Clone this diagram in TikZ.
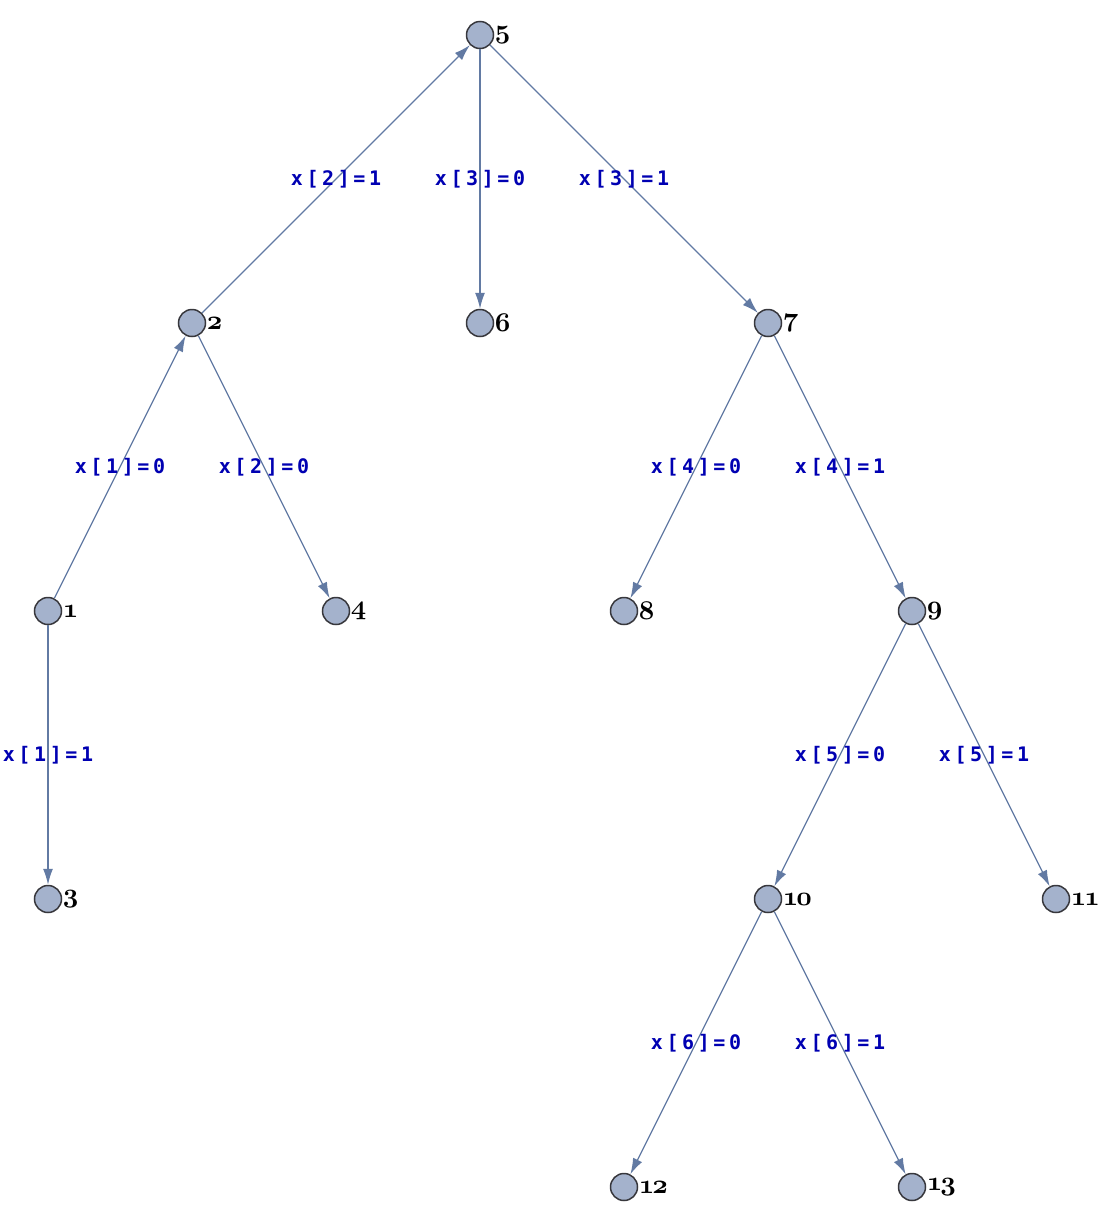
\documentclass[tikz,border=0pt]{standalone}
\usepackage{fontspec}
\usetikzlibrary{arrows.meta}
\newfontfamily\lblfont{DejaVu Sans Mono}[LetterSpace=18]
\font\vnumfont=cmmib10 at 27pt
\newcommand{\vnum}[1]{{\vnumfont #1}}
\newcommand{\vone}{1\kern-2pt}
\definecolor{vfill}{RGB}{164,178,204}
\definecolor{vdraw}{RGB}{55,55,60}
\definecolor{ecol}{RGB}{98,122,163}
\definecolor{lcol}{RGB}{0,0,178}
\begin{document}
\begin{tikzpicture}[x=1pt,y=-1pt,
  vtx/.style={circle,minimum size=27pt,inner sep=0pt,fill=vfill,draw=vdraw,line width=1.5pt,
    label={[vlab]right:{\vnum{#1}}}},
  vlab/.style={text=black,inner sep=0pt,label distance=0.5pt},
  conn/.style={draw=ecol,line width=1.3pt,-{Latex[length=16pt,width=10pt]}},
  elab/.style={font=\lblfont\bfseries\fontsize{20}{20}\selectfont,text=lcol,inner sep=0pt}]
\useasboundingbox (0,0) rectangle (1100,1224);
\node[vtx=5] (n5) at (480,35) {};
\node[vtx=2] (n2) at (192,323) {};
\node[vtx=6] (n6) at (480,323) {};
\node[vtx=7] (n7) at (768,323) {};
\node[vtx=1] (n1) at (48,611) {};
\node[vtx=4] (n4) at (336,611) {};
\node[vtx=8] (n8) at (624,611) {};
\node[vtx=9] (n9) at (912,611) {};
\node[vtx=3] (n3) at (48,899) {};
\node[vtx={\vone 0}] (n10) at (768,899) {};
\node[vtx={\vone 1}] (n11) at (1056,899) {};
\node[vtx={\vone 2}] (n12) at (624,1187) {};
\node[vtx={\vone 3}] (n13) at (912,1187) {};
\draw[conn] (n2) -- (n5) node[elab,midway] {x[2]=1};
\draw[conn] (n5) -- (n6) node[elab,midway] {x[3]=0};
\draw[conn] (n5) -- (n7) node[elab,midway] {x[3]=1};
\draw[conn] (n1) -- (n2) node[elab,midway] {x[1]=0};
\draw[conn] (n2) -- (n4) node[elab,midway] {x[2]=0};
\draw[conn] (n1) -- (n3) node[elab,midway] {x[1]=1};
\draw[conn] (n7) -- (n8) node[elab,midway] {x[4]=0};
\draw[conn] (n7) -- (n9) node[elab,midway] {x[4]=1};
\draw[conn] (n9) -- (n10) node[elab,midway] {x[5]=0};
\draw[conn] (n9) -- (n11) node[elab,midway] {x[5]=1};
\draw[conn] (n10) -- (n12) node[elab,midway] {x[6]=0};
\draw[conn] (n10) -- (n13) node[elab,midway] {x[6]=1};
\end{tikzpicture}
\end{document}
